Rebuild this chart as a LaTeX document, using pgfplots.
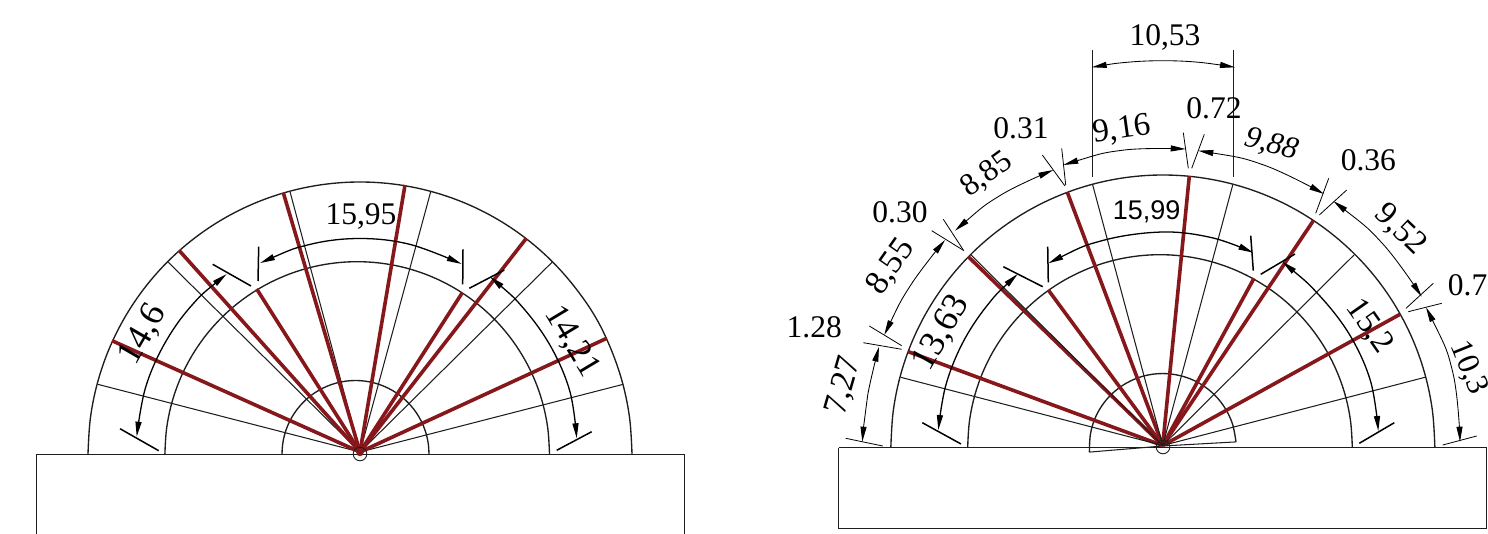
\documentclass[border=0pt]{standalone}
\usepackage{fontspec}
\setmainfont{Liberation Serif}
\newfontfamily\arialfont{Liberation Sans}
\usepackage{pgfplots}
\pgfplotsset{compat=1.18}
\usetikzlibrary{arrows.meta}
\definecolor{wire}{HTML}{1E1E1E}
\definecolor{ribred}{HTML}{86171B}
\tikzset{
  thin wire/.style={color=wire, line width=1.05pt, mark=none, sharp plot},
  arc wire/.style={color=wire, line width=1.35pt, mark=none, smooth, tension=0.6},
  ribline/.style={color=ribred, line width=3.6pt, mark=none, sharp plot},
  dim/.style={color=black, line width=1.3pt, mark=none, smooth, tension=0.6, {Triangle[length=15pt,width=6pt]}-{Triangle[length=15pt,width=6pt]}},
  dimthin/.style={color=black, line width=0.85pt, mark=none, smooth, tension=0.6, {Triangle[length=15pt,width=6pt]}-{Triangle[length=15pt,width=6pt]}},
  dimtick/.style={color=black, line width=1.5pt, mark=none, sharp plot},
  ticklight/.style={color=black, line width=0.8pt, mark=none, sharp plot},
  lab/.style={font=\fontsize{31.5}{32}\selectfont, inner sep=0pt, text=black},
  labbig/.style={font=\fontsize{34}{34}\selectfont, inner sep=0pt, text=black},
}
\begin{document}
\begin{tikzpicture}
\begin{axis}[
  scale only axis, width=1488pt, height=534pt,
  xmin=0, xmax=1488, ymin=0, ymax=534,
  y dir=reverse, hide axis, clip=true,
]
% left drawing ------------------------------------------------------
\addplot[thin wire] coordinates {(36.5,534)(36.5,454.5)(684.5,454.5)(684.5,534)};
\addplot[arc wire] coordinates {(88,454)(90.33,418.5)(97.27,383.6)(108.7,349.91)(124.44,318)(144.21,288.42)(167.67,261.67)(194.42,238.21)(224,218.44)(255.91,202.7)(289.6,191.27)(324.5,184.33)(360,182)(395.5,184.33)(430.4,191.27)(464.09,202.7)(496,218.44)(525.58,238.21)(552.33,261.67)(575.79,288.42)(596,318)(611.3,349.91)(622.73,383.6)(629.67,418.5)(632,454)};
\addplot[arc wire] coordinates {(164.9,454)(166.55,428.9)(171.45,404.23)(179.54,380.41)(190.66,357.85)(204.64,336.93)(221.22,318.02)(240.13,301.44)(261.05,287.46)(283.61,276.34)(307.43,268.25)(332.1,263.35)(357.2,261.7)(382.3,263.35)(406.97,268.25)(430.79,276.34)(453.35,287.46)(474.27,301.44)(493.18,318.02)(509.76,336.93)(523.74,357.85)(534.86,380.41)(542.95,404.23)(547.85,428.9)(549.5,454)};
\addplot[arc wire] coordinates {(282,454)(282.63,444.41)(284.5,434.98)(287.6,425.87)(291.85,417.25)(297.19,409.26)(303.53,402.03)(310.76,395.69)(318.75,390.35)(327.37,386.1)(336.48,383)(345.91,381.13)(355.5,380.5)(365.09,381.13)(374.52,383)(383.63,386.1)(392.25,390.35)(400.24,395.69)(407.47,402.03)(413.81,409.26)(419.15,417.25)(423.4,425.87)(426.5,434.98)(428.37,444.41)(429,454)};
% thin radials
\addplot[thin wire] coordinates {(97.7,384.3)(360,452)};
\addplot[thin wire] coordinates {(168.3,262.3)(360,452)};
\addplot[thin wire] coordinates {(290,191.7)(360,452)};
\addplot[thin wire] coordinates {(430.7,191.7)(360,452)};
\addplot[thin wire] coordinates {(552,262.3)(360,452)};
\addplot[thin wire] coordinates {(623.3,384.3)(360,452)};
% red ribs
\addplot[ribline] coordinates {(112,340.7)(360,452)};
\addplot[ribline] coordinates {(179,250.3)(360,452)};
\addplot[ribline] coordinates {(256.7,289)(360,452)};
\addplot[ribline] coordinates {(283.3,192.7)(360,452)};
\addplot[ribline] coordinates {(405,185)(360,452)};
\addplot[ribline] coordinates {(462.3,292.7)(360,452)};
\addplot[ribline] coordinates {(526.3,238.3)(360,452)};
\addplot[ribline] coordinates {(606.7,338.3)(360,452)};
\addplot[only marks, mark=*, mark size=3.5pt, color=ribred] coordinates {(360,452.5)};
\addplot[only marks, mark=o, mark size=6.8pt, color=wire, line width=0.9pt] coordinates {(360,454)};
% dimensions
\addplot[dim] coordinates {(260,263.1)(310,244.4)(360,238.5)(410,244.4)(461.7,264)};
\addplot[dim] coordinates {(226.7,274)(190.6,306.7)(163.7,345.2)(145.3,388.4)(136.7,436.7)};
\addplot[dim] coordinates {(490,276.7)(524.5,309.5)(551.7,348.2)(570,391.8)(576.7,438.3)};
\addplot[dimtick] coordinates {(258.7,246.7)(258,281)};
\addplot[dimtick] coordinates {(463,249.3)(462.7,284.3)};
\addplot[dimtick] coordinates {(212.7,264.3)(251,286)};
\addplot[dimtick] coordinates {(120,428.7)(158.7,450.7)};
\addplot[dimtick] coordinates {(469.3,288.3)(504.3,270)};
\addplot[dimtick] coordinates {(556.7,450.3)(591.7,431.7)};
\node[lab] at (axis cs:361,216) {15,95};
\node[labbig, font=\fontsize{36}{36}\selectfont, rotate=60] at (axis cs:143,335) {14,6};
\node[labbig, rotate=-59] at (axis cs:571.7,341.7) {14,21};

% right drawing -----------------------------------------------------
\addplot[thin wire] coordinates {(838.7,447.5)(1486.7,447.5)(1486.7,528.3)(838.7,528.3)(838.7,447.5)};
\addplot[arc wire] coordinates {(890.85,447)(893.18,411.5)(900.12,376.6)(911.55,342.91)(927.29,311)(947.06,281.42)(970.52,254.67)(997.27,231.21)(1026.85,211.44)(1058.76,195.7)(1092.45,184.27)(1127.35,177.33)(1162.85,175)(1198.35,177.33)(1233.25,184.27)(1266.94,195.7)(1298.85,211.44)(1328.43,231.21)(1355.18,254.67)(1378.64,281.42)(1398.41,311)(1414.15,342.91)(1425.58,376.6)(1432.52,411.5)(1434.85,447)};
\addplot[arc wire] coordinates {(967.7,447)(969.35,421.9)(974.25,397.23)(982.34,373.41)(993.46,350.85)(1007.44,329.93)(1024.02,311.02)(1042.93,294.44)(1063.85,280.46)(1086.41,269.34)(1110.23,261.25)(1134.9,256.35)(1160,254.7)(1185.1,256.35)(1209.77,261.25)(1233.59,269.34)(1256.15,280.46)(1277.07,294.44)(1295.98,311.02)(1312.56,329.93)(1326.54,350.85)(1337.66,373.41)(1345.75,397.23)(1350.65,421.9)(1352.3,447)};
\addplot[arc wire] coordinates {(1236,441.9)(1232.2,423.1)(1223.6,405.9)(1210.9,391.5)(1194.9,380.9)(1176.7,374.9)(1157.6,373.7)(1138.8,377.5)(1121.6,386.1)(1107.2,398.8)(1096.6,414.8)(1090.6,433)(1089.4,452.1)};
\addplot[thin wire] coordinates {(1236,441.9)(1162.7,446)(1089.4,452.1)};
% red ribs
\addplot[ribline] coordinates {(908.3,351.7)(1162.7,445.5)};
\addplot[ribline] coordinates {(968.3,256.7)(1162.7,445.5)};
\addplot[ribline] coordinates {(1048.3,290)(1162.7,445.5)};
\addplot[ribline] coordinates {(1067.3,192.3)(1162.7,445.5)};
\addplot[ribline] coordinates {(1189.3,176)(1162.7,445.5)};
\addplot[ribline] coordinates {(1254,278.3)(1162.7,445.5)};
\addplot[ribline] coordinates {(1313.3,220.7)(1162.7,445.5)};
\addplot[ribline] coordinates {(1400,314.3)(1162.7,445.5)};
% thin radials
\addplot[thin wire] coordinates {(900.7,377.3)(1162.7,445.5)};
\addplot[thin wire] coordinates {(970.7,254.7)(1162.7,445.5)};
\addplot[thin wire] coordinates {(1092.7,185)(1162.7,445.5)};
\addplot[thin wire] coordinates {(1232.7,185)(1162.7,445.5)};
\addplot[thin wire] coordinates {(1354,255)(1162.7,445.5)};
\addplot[thin wire] coordinates {(1425,377.3)(1162.7,445.5)};
\addplot[only marks, mark=o, mark size=6.8pt, color=wire, line width=0.9pt] coordinates {(1163,447)};
% extension lines of 10,53
\addplot[thin wire] coordinates {(1092.7,50)(1092.7,176.7)};
\addplot[thin wire] coordinates {(1233.3,50)(1233.3,176.7)};
% outer dimensions
\addplot[dimthin] coordinates {(1091.7,67.3)(1127,62.3)(1163,60.7)(1199,62.3)(1235,67.3)};
\addplot[dimthin] coordinates {(862.3,441.7)(867.7,395)(879,346.7)};
\addplot[dimthin] coordinates {(884.3,335)(910.9,284.8)(945,240)};
\addplot[dimthin] coordinates {(955,230.7)(1000.9,195)(1053.3,170)};
\addplot[dimthin] coordinates {(1063.3,165)(1123.6,150.1)(1185.7,149)};
\addplot[dimthin] coordinates {(1198.3,150.7)(1263.7,165)(1324,194)};
\addplot[dimthin] coordinates {(1333.3,201)(1382.8,243.9)(1421.7,296.7)};
\addplot[dimthin] coordinates {(1426,307.3)(1452.7,372)(1460,441.7)};
\addplot[ticklight] coordinates {(845.7,438.3)(882.7,446)};
\addplot[ticklight] coordinates {(863.3,342.7)(901.7,349.3)};
\addplot[ticklight] coordinates {(869.3,326)(901.7,345.7)};
\addplot[ticklight] coordinates {(931.7,230.7)(964,250.7)};
\addplot[ticklight] coordinates {(943.3,219.3)(963.3,250)};
\addplot[ticklight] coordinates {(1042.3,155)(1065,186)};
\addplot[ticklight] coordinates {(1061.7,148.3)(1065.7,185)};
\addplot[ticklight] coordinates {(1183.3,132.7)(1188.3,168.3)};
\addplot[ticklight] coordinates {(1204.3,134.3)(1191.7,168.3)};
\addplot[ticklight] coordinates {(1328.7,178.3)(1315.7,213.3)};
\addplot[ticklight] coordinates {(1346.7,190)(1319.3,215)};
\addplot[ticklight] coordinates {(1433.3,283.3)(1406,308.3)};
\addplot[ticklight] coordinates {(1441.7,303.3)(1408.3,311.7)};
\addplot[ticklight] coordinates {(1442.7,445)(1476.7,436)};
% inner dimensions
\addplot[dim] coordinates {(1048.3,263.3)(1102.7,240.5)(1162.7,232)(1212.7,237.9)(1253.3,252.7)};
\addplot[dim] coordinates {(1017.7,274)(986.5,306.3)(962.1,343.9)(945.6,386)(938.3,430)};
\addplot[dim] coordinates {(1282.3,261.7)(1319.5,295.6)(1350.2,335.7)(1370.6,381.4)(1378.3,431)};
\addplot[dimtick] coordinates {(1047.7,246.7)(1048.3,282.3)};
\addplot[dimtick] coordinates {(1250.7,235.7)(1253.3,270.7)};
\addplot[dimtick] coordinates {(1003.3,266.7)(1042.7,286.7)};
\addplot[dimtick] coordinates {(922.3,422.7)(961,444)};
\addplot[dimtick] coordinates {(1260.7,274.3)(1295,254)};
\addplot[dimtick] coordinates {(1359.3,443.3)(1394.3,422.7)};
% labels
\node[lab] at (axis cs:1165,37) {10,53};
\node[lab, font=\fontsize{33}{33}\selectfont, rotate=8] at (axis cs:1122,130) {9,16};
\node[lab] at (axis cs:1214,108) {0.72};
\node[lab] at (axis cs:1021,128) {0.31};
\node[lab, rotate=36] at (axis cs:986.7,175) {8,85};
\node[lab] at (axis cs:900,212) {0.30};
\node[labbig, rotate=55] at (axis cs:891,266.7) {8,55};
\node[lab] at (axis cs:814.2,327.5) {1.28};
\node[labbig, rotate=74] at (axis cs:844,386) {7,27};
\node[labbig, font=\fontsize{36}{36}\selectfont, rotate=60] at (axis cs:941.7,333) {13,63};
\node[lab, font=\arialfont\fontsize{27}{27}\selectfont] at (axis cs:1146.7,211.7) {15,99};
\node[lab, font=\itshape\fontsize{31}{31}\selectfont, rotate=-15] at (axis cs:1271.7,145) {9,88};
\node[lab] at (axis cs:1368.3,160.5) {0.36};
\node[labbig, font=\fontsize{33}{33}\selectfont, rotate=-44] at (axis cs:1400,230) {9,52};
\node[lab, anchor=west] at (axis cs:1447.7,285.7) {0.7};
\node[lab, rotate=-68] at (axis cs:1468.5,368) {10,3};
\node[labbig, font=\fontsize{33}{33}\selectfont, rotate=-55] at (axis cs:1369,326.7) {15,2};
\end{axis}
\pgfresetboundingbox
\path[use as bounding box] (current axis.south west) rectangle (current axis.north east);
\end{tikzpicture}
\end{document}
